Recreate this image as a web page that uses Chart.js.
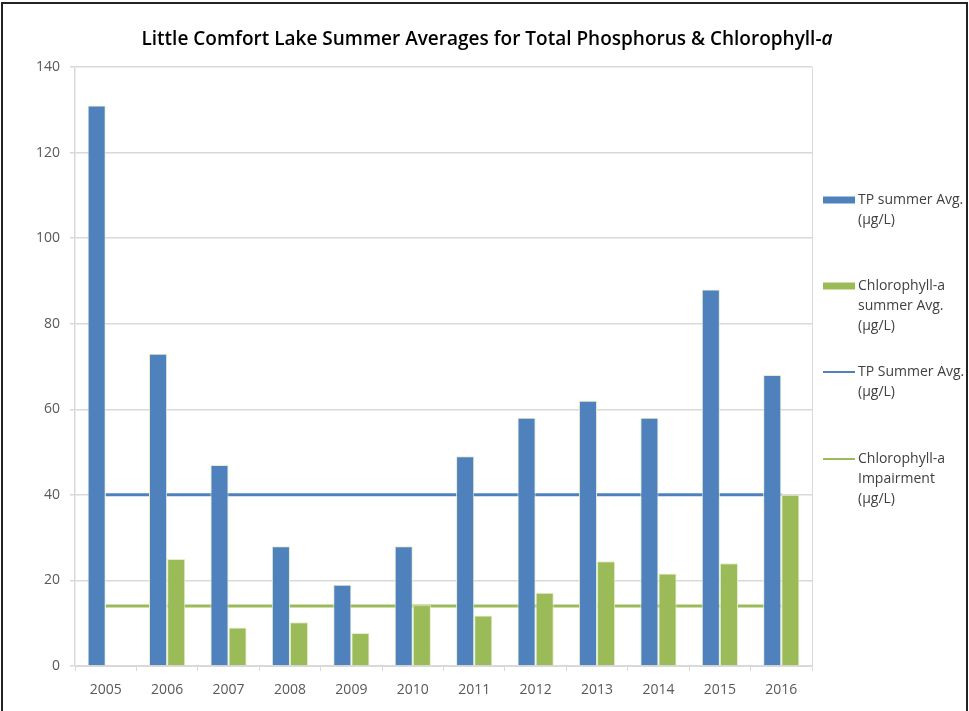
<!DOCTYPE html>
<html>
<head>
<meta charset="utf-8">
<script src="https://cdn.jsdelivr.net/npm/chart.js@4"></script>
<style>
  html, body { margin: 0; padding: 0; background: #fff; }
  #wrap { position: relative; width: 969px; height: 711px; }
  #frame { position: absolute; left: 1px; top: 2px; width: 963px; height: 720px; border: 2px solid #222; pointer-events: none; }
</style>
</head>
<body>
<div id="wrap">
  <canvas id="chart" width="969" height="711"></canvas>
  <div id="frame"></div>
</div>
<script>
var years = ['2005', '2006', '2007', '2008', '2009', '2010', '2011', '2012', '2013', '2014', '2015', '2016'];
var tpAvg = [131, 73, 47, 28, 19, 28, 49, 58, 62, 58, 88, 68];
var chlAvg = [null, 25, 9, 10.2, 7.7, 14.2, 11.8, 17.1, 24.5, 21.6, 24, 40];
var tpStandard = [40, 40, 40, 40, 40, 40, 40, 40, 40, 40, 40, 40];
var chlImpairment = [14, 14, 14, 14, 14, 14, 14, 14, 14, 14, 14, 14];
var legendLines = [
    ['TP summer Avg.', '(\u00b5g/L)'],
    ['Chlorophyll-a', 'summer Avg.', '(\u00b5g/L)'],
    ['TP Summer Avg.', '(\u00b5g/L)'],
    ['Chlorophyll-a', 'Impairment', '(\u00b5g/L)']
];

var blue = '#4f81bd';
var green = '#9bbb59';
var fontName = '"Open Sans", sans-serif';

// title, right border of the plot and the legend
var extras = {
    id: 'extras',
    afterDraw: function(chart) {
        var ctx = chart.ctx;
        var area = chart.chartArea;
        ctx.save();
        ctx.strokeStyle = '#d9d9d9';
        ctx.lineWidth = 1;
        ctx.beginPath();
        ctx.moveTo(area.right + 0.5, area.top);
        ctx.lineTo(area.right + 0.5, area.bottom);
        ctx.stroke();

        // title with italic a
        var t1 = 'Little Comfort Lake Summer Averages for Total Phosphorus & Chlorophyll-';
        ctx.fillStyle = '#000';
        ctx.textBaseline = 'middle';
        ctx.font = '600 19px ' + fontName;
        var w1 = ctx.measureText(t1).width;
        ctx.font = 'italic 600 19px ' + fontName;
        var w2 = ctx.measureText('a').width;
        var x0 = 487 - (w1 + w2) / 2;
        ctx.font = '600 19px ' + fontName;
        ctx.fillText(t1, x0, 40);
        ctx.font = 'italic 600 19px ' + fontName;
        ctx.fillText('a', x0 + w1, 40);

        // legend
        var tops = [200, 286, 372, 459];
        var colors = [blue, green, blue, green];
        ctx.font = '14px ' + fontName;
        for (var i = 0; i < 4; i++) {
            var y = tops[i];
            ctx.fillStyle = colors[i];
            if (i < 2) {
                ctx.fillRect(823, y - 3.5, 32, 7);
            } else {
                ctx.fillRect(823, y - 1, 32, 2);
            }
            ctx.fillStyle = '#404040';
            for (var j = 0; j < legendLines[i].length; j++) {
                ctx.fillText(legendLines[i][j], 858, y + j * 20);
            }
        }
        ctx.restore();
    }
};

var ctx = document.getElementById('chart').getContext('2d');
var chart = new Chart(ctx, {
    type: 'bar',
    data: {
        labels: years,
        datasets: [{
            label: 'TP summer Avg. (\u00b5g/L)',
            data: tpAvg,
            backgroundColor: blue,
            borderColor: '#e4edcc',
            borderWidth: 1,
            order: 1
        }, {
            label: 'Chlorophyll-a summer Avg. (\u00b5g/L)',
            data: chlAvg,
            backgroundColor: green,
            borderColor: '#e4edcc',
            borderWidth: 1,
            order: 1
        }, {
            type: 'line',
            label: 'TP Summer Avg. (\u00b5g/L)',
            data: tpStandard,
            borderColor: blue,
            borderWidth: 3,
            pointRadius: 0,
            fill: false,
            order: 2
        }, {
            type: 'line',
            label: 'Chlorophyll-a Impairment (\u00b5g/L)',
            data: chlImpairment,
            borderColor: green,
            borderWidth: 3,
            pointRadius: 0,
            fill: false,
            order: 2
        }]
    },
    options: {
        responsive: false,
        animation: false,
        layout: {
            padding: { top: 67, right: 157, left: 0, bottom: 0 }
        },
        datasets: {
            bar: { categoryPercentage: 0.59, barPercentage: 1.0 }
        },
        plugins: {
            legend: { display: false },
            title: { display: false },
            tooltip: { enabled: false }
        },
        scales: {
            x: {
                grid: {
                    offset: true,
                    drawOnChartArea: false,
                    drawTicks: true,
                    tickLength: 5,
                    color: '#d9d9d9'
                },
                border: { color: '#d9d9d9', width: 1 },
                ticks: {
                    color: '#595959',
                    font: { family: fontName, size: 14 },
                    padding: 11,
                    maxRotation: 0
                },
                afterFit: function(scale) { scale.height = 45; }
            },
            y: {
                min: 0,
                max: 140,
                ticks: {
                    stepSize: 20,
                    color: '#595959',
                    font: { family: fontName, size: 14 },
                    padding: 10
                },
                grid: {
                    color: '#d9d9d9',
                    lineWidth: 1.5,
                    tickLength: 5
                },
                border: { color: '#d9d9d9', width: 1.5 },
                afterFit: function(scale) { scale.width = 75; }
            }
        }
    },
    plugins: [extras]
});
</script>
</body>
</html>
